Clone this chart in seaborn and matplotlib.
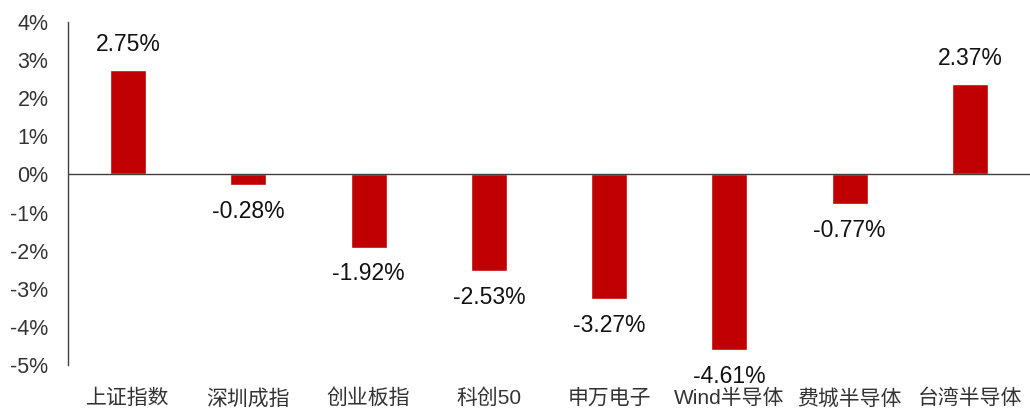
import matplotlib.pyplot as plt
import pandas as pd
import seaborn as sns
from matplotlib.ticker import FuncFormatter

categories = ["上证指数", "深圳成指", "创业板指", "科创50", "申万电子",
              "Wind半导体", "费城半导体", "台湾半导体"]
returns = [2.75, -0.28, -1.92, -2.53, -3.27, -4.61, -0.77, 2.37]

df = pd.DataFrame({"index": categories, "ret": returns})

sns.set_theme(style="white")
plt.rcParams["font.family"] = ["Liberation Sans", "Noto Sans CJK SC", "DejaVu Sans"]

fig = plt.figure(figsize=(10.3, 4.12), dpi=100)
ax = fig.add_axes([0.066, 0.114, 0.934, 0.833])

sns.barplot(data=df, x="index", y="ret", color="#C00000", width=0.3,
            saturation=1, ax=ax)

ax.set_ylim(-5, 4)
ax.set_xlim(-0.5, len(categories) - 0.5)
ax.set_yticks(range(-5, 5))
ax.yaxis.set_major_formatter(FuncFormatter(lambda v, _: f"{v:.0f}%"))
ax.axhline(0, color="#404040", lw=1, zorder=3)

for s in ["top", "right", "bottom"]:
    ax.spines[s].set_visible(False)
ax.spines["left"].set_color("#404040")
ax.spines["left"].set_linewidth(1)

ax.tick_params(axis="y", length=0, labelsize=15.5, labelcolor="#333333", pad=14)
ax.tick_params(axis="x", length=0, labelsize=15, labelcolor="#333333", pad=17)
ax.set_xlabel("")
ax.set_ylabel("")

for i, v in enumerate(returns):
    off = 18 if v >= 0 else -19
    ax.annotate(f"{v:.2f}%", (i, v), xytext=(0, off), textcoords="offset points",
                ha="center", va="center", fontsize=16.5, color="#111111")

fig.savefig("out.png", dpi=100)
